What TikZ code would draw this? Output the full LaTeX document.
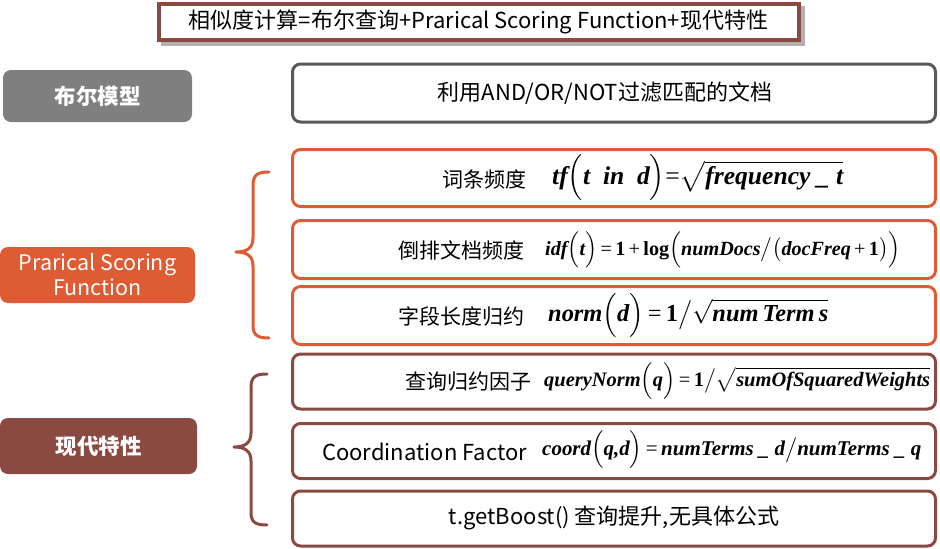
\documentclass[tikz,border=0pt]{standalone}
\usepackage{amsmath}
\usepackage{graphicx}
\usepackage{fontspec}
\setmainfont{Noto Sans CJK SC}
\newfontfamily\fm{Liberation Serif}
\usetikzlibrary{backgrounds}
\definecolor{cgray}{HTML}{7F7F7F}
\definecolor{cdgray}{HTML}{595959}
\definecolor{corange}{HTML}{DD5C34}
\definecolor{cbrown}{HTML}{8A4A42}
\newcommand\fx[1]{\hbox{\fm\bfseries\itshape #1}}
\newcommand\fr[1]{\hbox{\fm #1}}
\newcommand\fb[1]{\hbox{\fm\bfseries #1}}
\tikzset{
  x=1pt,y=-1pt,
  lbox/.style={rounded corners=8pt,minimum width=#1,inner sep=0pt,text=white,font=\fontsize{21.5}{25}\selectfont,align=center},
  rbox/.style={draw=#1,line width=3pt,rounded corners=8pt,minimum width=643pt,inner sep=0pt,fill=white},
  lab/.style={anchor=west,inner sep=0pt,font=\fontsize{21}{24}\selectfont},
  mix/.style={inner sep=0pt,font=\fontsize{22}{25}\selectfont},
  frm/.style={anchor=west,inner sep=0pt},
  brc/.style={draw=#1,line width=3pt,line cap=round,line join=round},
}
\begin{document}
\begin{tikzpicture}
\useasboundingbox (0,0) rectangle (940,549);
% title
\node[draw=cbrown,line width=4pt,fill=white,minimum width=640pt,minimum height=36pt,inner sep=0pt,
  font=\fontsize{22}{25}\selectfont] (title) at (478.5,22) {相似度计算=布尔查询+Prarical Scoring Function+现代特性};
\begin{scope}[on background layer]
\fill[black!30] ([shift={(4,4)}]title.north west) rectangle ([shift={(4,4)}]title.south east);
\end{scope}
% left boxes
\node[lbox=189pt,fill=cgray,minimum height=52pt,font=\fontsize{21.5}{25}\selectfont\bfseries] (bool) at (97.5,96) {布尔模型};
\node[lbox=195pt,fill=corange,minimum height=56pt] (psf) at (97.5,275) {Prarical Scoring\\Function};
\node[lbox=197pt,fill=cbrown,minimum height=56pt,font=\fontsize{21.5}{25}\selectfont\bfseries] (mod) at (98.5,446) {现代特性};
% right boxes
\node[rbox=cdgray,minimum height=58pt] (b1) at (614,93) {};
\node[rbox=corange,minimum height=57pt] (b2) at (614,178) {};
\node[rbox=corange,minimum height=58pt] (b3) at (614,249.5) {};
\node[rbox=corange,minimum height=58pt] (b4) at (614,315.5) {};
\node[rbox=cbrown,minimum height=55pt] (b5) at (614,381.5) {};
\node[rbox=cbrown,minimum height=55pt] (b6) at (614,451) {};
\node[rbox=cbrown,minimum height=55pt] (b7) at (614,518.5) {};
% texts
\node[mix] (t1) at (605,93) {利用AND/OR/NOT过滤匹配的文档};
\node[lab] (l2) at (442,179) {词条频度};
\node[frm] (f2) at (552,178) {\resizebox{291pt}{!}{$\fx{tf}\Bigl(\fx{t\ \ in\ \ d}\Bigr)\fr{=}\sqrt{\fx{frequency \_ t}}$}};
\node[lab] (l3) at (398,250) {倒排文档频度};
\node[frm] (f3) at (545,250) {\resizebox{355pt}{!}{$\fx{idf}\Bigl(\fx{t}\Bigr)\fr{\,=\,}\fb{1}\fr{\,+\,}\fb{log}\Bigl(\fx{numDocs}\big/\bigl(\fx{docFreq}\fr{\,+\,}\fb{1}\bigr)\Bigr)$}};
\node[lab] (l4) at (398,316) {字段长度归约};
\node[frm] (f4) at (548,315) {\resizebox{280pt}{!}{$\fx{norm}\Bigl(\fx{d}\Bigr)\fr{\,=\,}\fb{1}\big/\sqrt{\fx{num\,Term\,s}}$}};
\node[lab] (l5) at (405,382) {查询归约因子};
\node[frm] (f5) at (544,381) {\resizebox{386pt}{!}{$\fx{queryNorm}\Bigl(\fx{q}\Bigr)\fr{\,=\,}\fb{1}\big/\sqrt{\fx{sumOfSquaredWeights}}$}};
\node[mix,anchor=west] (l6) at (322,452) {Coordination Factor};
\node[frm] (f6) at (542,450) {\resizebox{379pt}{!}{$\fx{coord}\Bigl(\fx{q,d}\Bigr)\fr{\,=\,}\fx{numTerms \_ d}\big/\fx{numTerms \_ q}$}};
\node[mix] (t7) at (614,518) {t.getBoost() 查询提升,无具体公式};
% braces
\draw[brc=corange] (269,172) .. controls (257,172) and (253,175) .. (253,186) -- (253,238) .. controls (253,248) and (247,252) .. (236,252) .. controls (247,252) and (253,256) .. (253,266) -- (253,325) .. controls (253,335) and (257,338) .. (269,338);
\draw[brc=cbrown] (267,374) .. controls (255,374) and (251,377) .. (251,388) -- (251,433) .. controls (251,443) and (245,447) .. (234,447) .. controls (245,447) and (251,451) .. (251,461) -- (251,512) .. controls (251,522) and (255,525) .. (267,525);
\end{tikzpicture}
\end{document}
